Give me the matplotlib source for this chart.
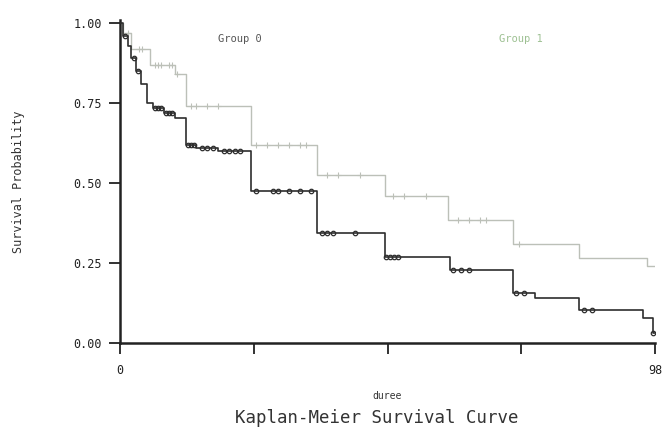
import numpy as np
import matplotlib
matplotlib.use('Agg')
import matplotlib.pyplot as plt

# step curves (time, survival after the step)
g0_time = [0, 0.5, 1.5, 2.0, 3.0, 3.8, 5.0, 6.0, 8.0, 10.0, 12.0, 14.0, 18.0,
           24.0, 36.0, 48.5, 60.5, 72.0, 76.0, 84.0, 95.8, 97.6, 98.0]
g0_surv = [1.00, 0.96, 0.93, 0.89, 0.85, 0.81, 0.75, 0.735, 0.72, 0.705, 0.62, 0.61, 0.60,
           0.475, 0.345, 0.27, 0.228, 0.156, 0.14, 0.103, 0.078, 0.03, 0.03]
g0_cens = [1.0, 2.5, 3.3, 6.5, 7.0, 7.5, 8.5, 9.0, 9.5, 12.5, 13.0, 13.5, 15.0, 16.0,
           17.0, 19.0, 20.0, 21.0, 22.0, 25.0, 28.0, 29.0, 31.0, 33.0, 35.0, 37.0, 38.0,
           39.0, 43.0, 48.8, 49.5, 50.2, 51.0, 61.0, 62.5, 64.0, 72.5, 74.0, 85.0, 86.5, 97.7]

g1_time = [0, 0.5, 2.0, 5.5, 10.0, 12.0, 24.0, 36.0, 48.5, 60.0, 72.0, 84.0, 96.5, 98.0]
g1_surv = [1.00, 0.97, 0.92, 0.87, 0.84, 0.74, 0.62, 0.525, 0.46, 0.385, 0.31, 0.265, 0.24, 0.24]
g1_cens = [1.5, 3.5, 4.0, 6.5, 7.0, 7.5, 9.0, 9.5, 10.5, 13.0, 14.0, 16.0, 18.0, 25.0,
           27.0, 29.0, 31.0, 33.0, 34.0, 38.0, 40.0, 44.0, 50.0, 52.0, 56.0, 62.0, 64.0,
           66.0, 67.0, 73.0]

x_ticks = [0, 24.5, 49, 73.5, 98]
x_labels = ['0', '', '', '', '98']
y_ticks = [0.0, 0.25, 0.5, 0.75, 1.0]

plt.rcParams['font.family'] = ['DejaVu Sans Mono', 'DejaVu Sans']

fig = plt.figure(figsize=(6.62, 4.32), dpi=100)
ax = fig.add_axes([120/662, 1-343/432, 535/662, 323/432])

def surv_at(tt, t, s):
    i = np.searchsorted(t, tt, side='right') - 1
    return np.asarray(s)[i]

c0, c1 = '#2e2e2e', '#bcc0b8'

ax.step(g1_time, g1_surv, where='post', color=c1, lw=1.0, zorder=2)
ax.plot(g1_cens, surv_at(g1_cens, g1_time, g1_surv), ls='none', marker='+',
        ms=4, mew=0.8, color=c1, zorder=2)

ax.step(g0_time, g0_surv, where='post', color=c0, lw=1.2, zorder=3)
ax.plot(g0_cens, surv_at(g0_cens, g0_time, g0_surv), ls='none', marker='o',
        ms=3.2, mfc='none', mew=0.9, color=c0, zorder=3)

ax.set_xlim(0, 98)
ax.set_ylim(0, 1.01)
ax.set_xticks(x_ticks)
ax.set_xticklabels(x_labels)
ax.set_yticks(y_ticks)
ax.set_yticklabels(['%.2f' % v for v in y_ticks])

for sp in ['top', 'right']:
    ax.spines[sp].set_visible(False)
for sp in ['left', 'bottom']:
    ax.spines[sp].set_linewidth(1.8)
    ax.spines[sp].set_color('#222222')

ax.tick_params(axis='y', direction='out', length=8, width=1.3, pad=5,
               labelsize=8.5, colors='#222222')
ax.tick_params(axis='x', direction='out', length=8, width=1.3, pad=7,
               labelsize=8.5, colors='#222222')

ax.set_ylabel('Survival Probability', fontsize=8.5, labelpad=35, color='#333333')
ax.set_xlabel('duree', fontsize=7, labelpad=10, color='#333333')

ax.text(0.224, 0.94, 'Group 0', transform=ax.transAxes, fontsize=7.5,
        color='#555555', ha='center', va='center')
ax.text(0.75, 0.94, 'Group 1', transform=ax.transAxes, fontsize=7.5,
        color='#9dc092', ha='center', va='center')

fig.text(377/662, 1-418/432, 'Kaplan-Meier Survival Curve', fontsize=12.5,
         ha='center', va='center', color='#333333')

plt.savefig('out.png', dpi=100)
